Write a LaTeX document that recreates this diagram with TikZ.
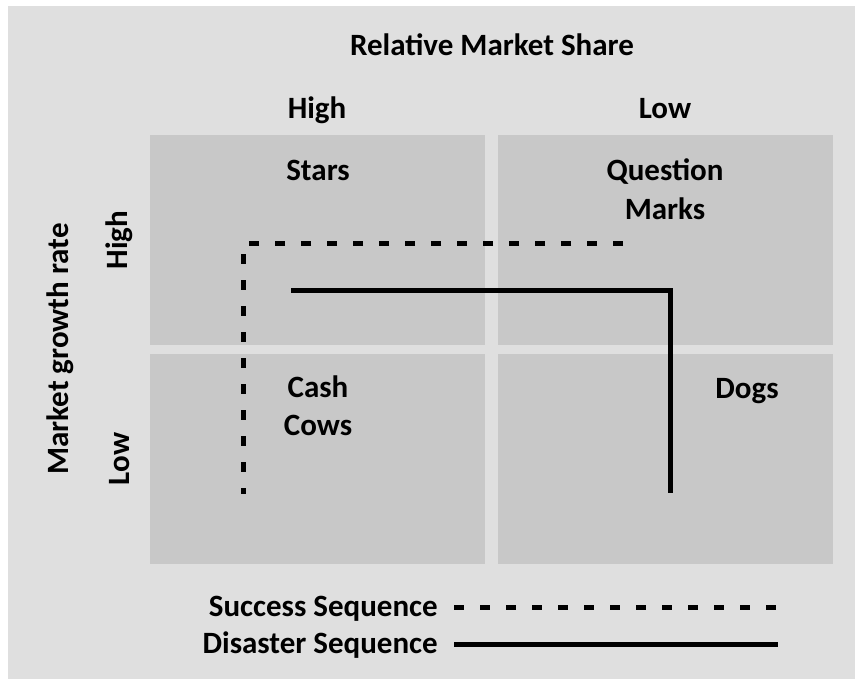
\documentclass[tikz,border=0pt]{standalone}
\usepackage{fontspec}
\setmainfont{Carlito}
\definecolor{bggray}{HTML}{DFDFDF}
\definecolor{cellgray}{HTML}{C8C8C8}
\tikzset{
  cell/.style={fill=cellgray, draw=none},
  lbl/.style={font=\fontsize{31}{37}\selectfont\bfseries, text=black, inner sep=0pt, anchor=base, align=center},
  succ/.style={line width=5pt, dash pattern=on 10pt off 16pt},
  disa/.style={line width=5pt},
}
\begin{document}
\begin{tikzpicture}[x=1pt,y=-1pt]
\useasboundingbox (0,0) rectangle (855,679);
\fill[white] (0,0) rectangle (855,679);
\fill[bggray] (8,6) rectangle (855,679);
% cells
\fill[cell] (150,135) rectangle (485,345);
\fill[cell] (498,135) rectangle (833,345);
\fill[cell] (150,354) rectangle (485,564);
\fill[cell] (498,354) rectangle (833,564);
% axis labels
\node[lbl] (rms) at (492,55.5) {Relative Market Share};
\node[lbl] (hi1) at (317,118.5) {High};
\node[lbl] (lo1) at (665,118.5) {Low};
\node[lbl, rotate=90] (mgr) at (68,349) {Market growth rate};
\node[lbl, rotate=90] (hi2) at (127,240) {High};
\node[lbl, rotate=90] (lo2) at (129,459) {Low};
% quadrant labels
\node[lbl] (stars) at (318,180.5) {Stars};
\node[lbl] (qm1) at (665,180.5) {Question};
\node[lbl] (qm2) at (665,219.5) {Marks};
\node[lbl] (cc1) at (318,397.5) {Cash};
\node[lbl] (cc2) at (318,435.5) {Cows};
\node[lbl] (dogs) at (747,398.5) {Dogs};
% sequences
\coordinate (s1) at (623,243.7);
\coordinate (s2) at (243.7,243.7);
\coordinate (s3) at (243.7,494);
\draw[succ] (s1) -- (s2) -- (s3);
\coordinate (d1) at (291,291);
\coordinate (d2) at (670.3,291);
\coordinate (d3) at (670.3,493);
\draw[disa] (d1) -- (d2) -- (d3);
% legend
\node[lbl, anchor=base east] (ls) at (438,616.5) {Success Sequence};
\node[lbl, anchor=base east] (ld) at (438,653.5) {Disaster Sequence};
\coordinate (ls1) at (454,607);
\coordinate (ls2) at (778,607);
\coordinate (ld1) at (454,644);
\coordinate (ld2) at (778,644);
\draw[succ] (ls1) -- (ls2);
\draw[disa] (ld1) -- (ld2);
\end{tikzpicture}
\end{document}
